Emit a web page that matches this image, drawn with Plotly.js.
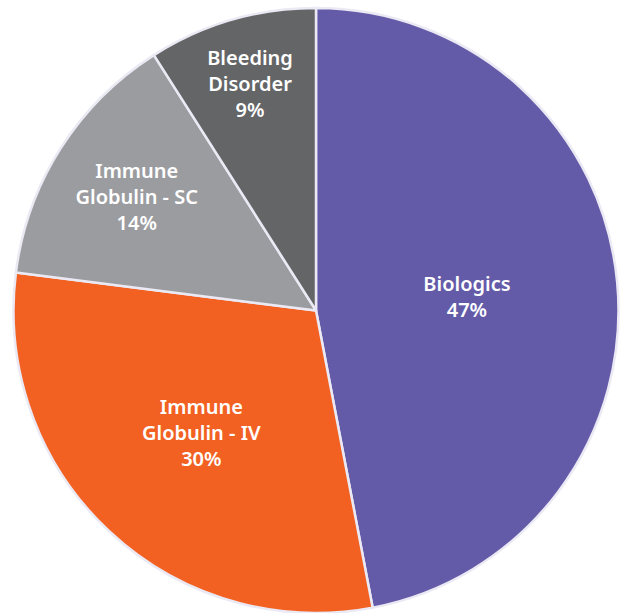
<!DOCTYPE html>
<html>
<head>
<meta charset="utf-8">
<script src="https://cdn.plot.ly/plotly-3.0.1.min.js"></script>
<style>html,body{margin:0;padding:0;background:#fff;}#chart{width:622px;height:613px;}</style>
</head>
<body>
<div id="chart"></div>
<script>
const categories = ["Biologics", "Immune<br>Globulin - IV", "Immune<br>Globulin - SC", "Bleeding<br>Disorder"];
const shares = [47, 30, 14, 9];
const colors = ["#635ba8", "#f26122", "#9b9c9f", "#646567"];

Plotly.newPlot("chart", [{
  type: "pie",
  labels: categories,
  values: shares,
  sort: false,
  direction: "clockwise",
  rotation: 0,
  marker: {colors: colors, line: {color: "#ebe9f4", width: 2.5}},
  texttemplate: "%{label}<br>%{value}%",
  textposition: "inside",
  insidetextorientation: "horizontal",
  textfont: {family: "Noto Sans", size: 20, color: "#ffffff", weight: 600},
  hoverinfo: "none",
  domain: {x: [13/622, 619/622], y: [0, 605/613]},
  showlegend: false
}], {
  width: 622, height: 613,
  margin: {l: 0, r: 0, t: 0, b: 0},
  paper_bgcolor: "#ffffff",
  showlegend: false
}, {staticPlot: true});
</script>
</body>
</html>
